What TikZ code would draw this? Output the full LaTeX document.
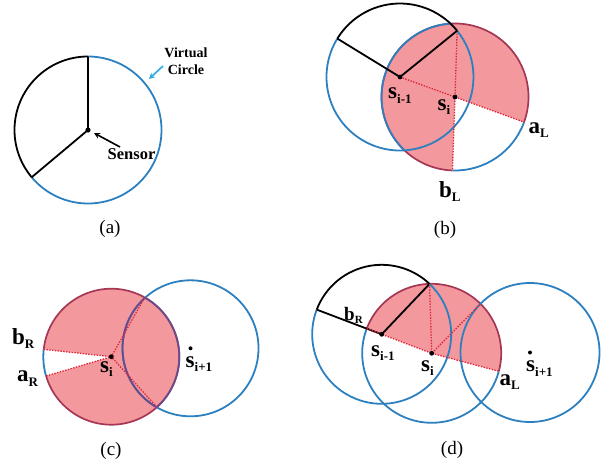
\documentclass[tikz,border=0pt]{standalone}
\usepackage{fontspec}
\setmainfont{Liberation Serif}
\usetikzlibrary{calc,arrows.meta}
\definecolor{cblue}{RGB}{45,128,192}
\definecolor{ccyan}{RGB}{40,170,225}
\definecolor{cpink}{RGB}{243,152,157}
\definecolor{cdred}{RGB}{165,55,85}
\definecolor{cdot}{RGB}{225,35,55}
\definecolor{cpurple}{RGB}{105,75,140}
\newcommand{\lbl}[2]{{\fontsize{23}{23}\selectfont\bfseries #1\raisebox{-4.5pt}{\fontsize{13}{13}\selectfont #2}}}
\begin{document}
\begin{tikzpicture}[x=1pt,y=1pt,
  bl/.style={draw=cblue,line width=1.8pt},
  pu/.style={draw=cpurple,line width=1.8pt},
  bk/.style={draw=black,line width=1.8pt},
  rd/.style={draw=cdred,line width=1.7pt},
  dt/.style={draw=cdot,line width=1.3pt,dash pattern=on 1.4pt off 1.4pt},
  lab/.style={inner sep=0pt,anchor=base west},
  captxt/.style={font=\fontsize{19}{19}\selectfont}]
\useasboundingbox (0,0) rectangle (615,-466);
% ---------------- (a)
\def\ra{73.5}
\coordinate (A) at (88,-130);
\coordinate (Atop) at ($(A)+(90:\ra)$);
\coordinate (Alow) at ($(A)+(220:\ra)$);
\draw[bl] (Alow) arc[start angle=220,end angle=450,radius=\ra];
\draw[bk] (Atop) arc[start angle=90,end angle=220,radius=\ra];
\draw[bk] (Atop) -- (A) -- (Alow);
\fill (A) circle (2.6);
\node[font=\fontsize{14}{16.5}\selectfont\bfseries,align=center] (vc) at (186,-61) {Virtual\\Circle};
\coordinate (vcs) at (163,-66);
\coordinate (vce) at (149,-79);
\draw[ccyan,line width=1.6pt,-{Stealth[length=6pt,width=6pt]}] (vcs) -- (vce);
\node[lab,font=\fontsize{16.5}{16.5}\selectfont\bfseries] (sen) at (107.5,-159) {Sensor};
\coordinate (sns) at (120,-147);
\coordinate (sne) at (94,-133);
\draw[black,line width=1.6pt,-{Stealth[length=6pt,width=6pt]}] (sns) -- (sne);
\node[captxt] (capa) at (110,-229) {(a)};
% ---------------- (b)
\def\rb{73.5}
\coordinate (P1) at (400,-77);
\coordinate (Q1) at (455,-97);
\coordinate (T1) at ($(P1)+(39:\rb)$);
\coordinate (K1) at ($(P1)+(148.5:\rb)$);
\coordinate (aL1) at ($(Q1)+(-20:\rb)$);
\coordinate (bL1) at ($(Q1)+(268:\rb)$);
\fill[cpink] (Q1) -- (aL1) arc[start angle=-20,end angle=268,radius=\rb] -- cycle;
\draw[rd] (aL1) arc[start angle=-20,end angle=268,radius=\rb];
\draw[bl] (bL1) arc[start angle=268,end angle=340,radius=\rb];
\begin{scope}
  \clip (P1) circle (\rb);
  \draw[bl] (Q1) circle (\rb);
\end{scope}
\draw[bl] (K1) arc[start angle=148.5,end angle=399,radius=\rb];
\draw[dt] (P1) -- (Q1) -- (aL1);
\draw[dt] (T1) -- (Q1) -- (bL1);
\draw[bk] (K1) -- (P1) -- (T1);
\draw[bk] (K1) arc[start angle=148.5,end angle=39,radius=\rb];
\fill (P1) circle (2.4);
\fill (Q1) circle (2.4);
\node[lab] (ls1) at (388,-98.5) {\lbl{s}{i-1}};
\node[lab] (ls2) at (437.5,-110) {\lbl{s}{i}};
\node[lab] (laL) at (528.5,-133.3) {\lbl{a}{L}};
\node[lab] (lbL) at (439,-197.3) {\lbl{b}{L}};
\node[captxt] (capb) at (445,-230) {(b)};
% ---------------- (c)
\def\rc{68}
\coordinate (Q2) at (111.3,-356.7);
\coordinate (R2) at (190.5,-348.3);
\coordinate (bR2) at ($(Q2)+(173.8:\rc)$);
\coordinate (aR2) at ($(Q2)+(196.5:\rc)$);
\coordinate (X21) at ($(Q2)+(60.6:\rc)$);
\coordinate (X22) at ($(Q2)+(-47.9:\rc)$);
\fill[cpink] (Q2) -- (aR2) arc[start angle=196.5,end angle=533.8,radius=\rc] -- cycle;
\draw[rd] (aR2) arc[start angle=196.5,end angle=533.8,radius=\rc];
\draw[bl] (bR2) arc[start angle=173.8,end angle=196.5,radius=\rc];
\draw[bl] (R2) circle (\rc);
\begin{scope}
  \clip (R2) circle (\rc);
  \draw[pu] (Q2) circle (\rc);
\end{scope}
\begin{scope}
  \clip (Q2) circle (\rc);
  \draw[pu] (R2) circle (\rc);
\end{scope}
\draw[dt] (bR2) -- (Q2) -- (aR2);
\draw[dt] (X21) -- (Q2) -- (X22);
\fill (Q2) circle (2.4);
\fill (R2) circle (2);
\node[lab] (lbR) at (12,-344) {\lbl{b}{R}};
\node[lab] (laR) at (17,-381.5) {\lbl{a}{R}};
\node[lab] (ls3) at (100,-372) {\lbl{s}{i}};
\node[lab] (ls4) at (185.5,-367) {\lbl{s}{i+1}};
\node[captxt] (capc) at (111,-451) {(c)};
% ---------------- (d)
\def\rdd{69.5}
\coordinate (P3) at (381.7,-334.3);
\coordinate (Q3) at (431.7,-353.3);
\coordinate (R3) at (530,-352.5);
\coordinate (T3) at ($(P3)+(46.5:\rdd)$);
\coordinate (K3) at ($(P3)+(159.2:\rdd)$);
\coordinate (bR3) at ($(Q3)+(159.2:\rdd)$);
\coordinate (aL3) at ($(Q3)+(-15:\rdd)$);
\coordinate (X3) at ($(Q3)+(45.4:\rdd)$);
\fill[cpink] (Q3) -- (aL3) arc[start angle=-15,end angle=159.2,radius=\rdd] -- cycle;
\draw[rd] (aL3) arc[start angle=-15,end angle=159.2,radius=\rdd];
\draw[bl] (bR3) arc[start angle=159.2,end angle=345,radius=\rdd];
\draw[bl] (K3) arc[start angle=159.2,end angle=406.5,radius=\rdd];
\draw[bl] (R3) circle (\rdd);
\draw[bk] (K3) -- (P3) -- (T3);
\draw[bk] (K3) arc[start angle=159.2,end angle=46.5,radius=\rdd];
\draw[dt] (bR3) -- (P3) -- (Q3) -- (aL3);
\draw[dt] (T3) -- (Q3) -- (X3);
\fill (P3) circle (2.4);
\fill (Q3) circle (2.4);
\fill (R3) circle (2);
\node[lab,font=\small] (lbR3) at (344,-320) {{\fontsize{19}{19}\selectfont\bfseries b\raisebox{-3pt}{\fontsize{11}{11}\selectfont R}}};
\node[lab] (ls5) at (371,-356) {\lbl{s}{i-1}};
\node[lab] (ls6) at (421,-371) {\lbl{s}{i}};
\node[lab] (laL3) at (499.5,-385) {\lbl{a}{L}};
\node[lab] (ls7) at (526,-371.7) {\lbl{s}{i+1}};
\node[captxt] (capd) at (452,-450) {(d)};
\end{tikzpicture}
\end{document}
